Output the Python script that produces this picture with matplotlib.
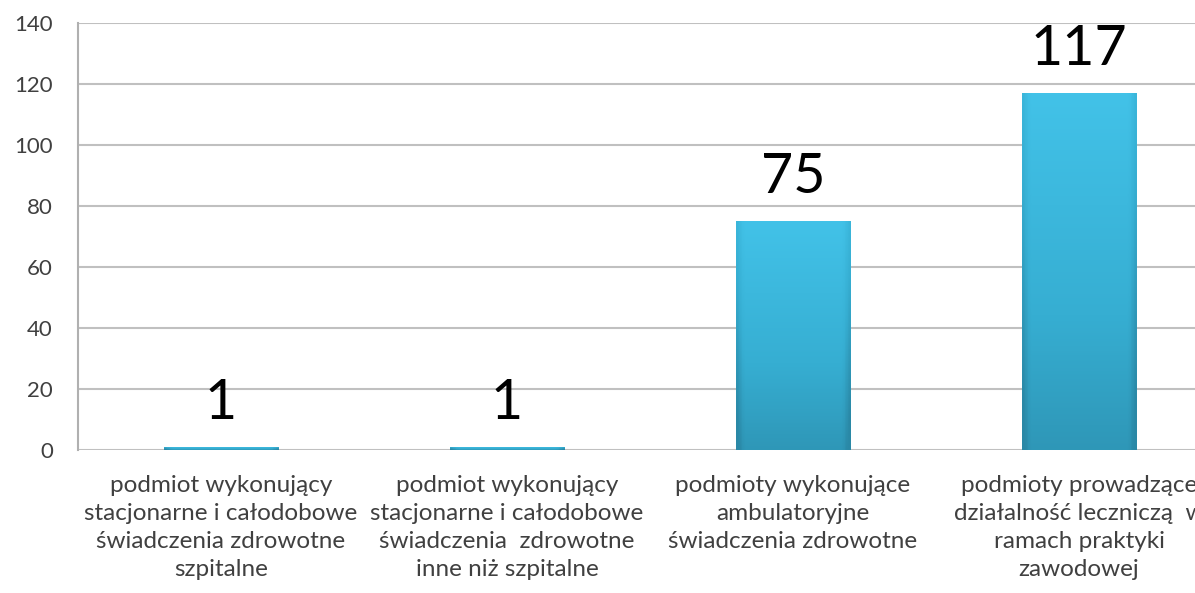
import matplotlib
matplotlib.use("Agg")
import matplotlib.pyplot as plt
import numpy as np
from matplotlib.colors import LinearSegmentedColormap

categories = [
    "podmiot wykonujący\nstacjonarne i całodobowe\nświadczenia zdrowotne\nszpitalne",
    "podmiot wykonujący\nstacjonarne i całodobowe\nświadczenia  zdrowotne\ninne niż szpitalne",
    "podmioty wykonujące\nambulatoryjne\nświadczenia zdrowotne",
    "podmioty prowadzące\ndziałalność leczniczą  w\nramach praktyki\nzawodowej",
]
values = [1, 1, 75, 117]
yticks = [0, 20, 40, 60, 80, 100, 120, 140]

plt.rcParams["font.family"] = ["Lato", "DejaVu Sans"]

W, H = 1195, 593
fig = plt.figure(figsize=(W / 100, H / 100), dpi=100)
# plot area runs past the right edge of the picture, as in the reference
left, right, bottom, top = 78, 1222, 450, 23
ax = fig.add_axes([left / W, 1 - bottom / H, (right - left) / W, (bottom - top) / H])

x = np.arange(len(values))
bars = ax.bar(x, values, width=0.4, color="#3bb4d8", zorder=3, linewidth=0)

# shaded gradient on each bar
grad_cmap = LinearSegmentedColormap.from_list("bar", ["#2a88a6", "#36aed2", "#42c2e8"])
gy = np.linspace(0, 1, 100)[:, None]
gx = np.linspace(0, 1, 40)[None, :]
edge = np.minimum(gx, 1 - gx)
shade = gy * 0.8 + 0.2 - np.where(edge < 0.06, (0.06 - edge) * 5, 0)
for b in bars:
    bx, by = b.get_x(), b.get_y()
    bw, bh = b.get_width(), b.get_height()
    im = ax.imshow(shade, cmap=grad_cmap, vmin=0, vmax=1, origin="lower",
                   extent=[bx, bx + bw, by, by + bh], aspect="auto", zorder=4)
    im.set_clip_path(b)
    ax.text(b.get_x() + bw / 2, by + bh + 9.3, str(int(bh)), ha="center", va="baseline",
            fontsize=40, color="black", zorder=5)

ax.set_xlim(-0.5, len(values) - 0.5)
ax.set_ylim(0, 140)
ax.set_yticks(yticks)
ax.set_xticks(x)
ax.set_xticklabels(categories, fontsize=17.5, color="#404040", linespacing=1.42)
ax.tick_params(axis="y", labelsize=16, colors="#404040", length=0, pad=18)
ax.tick_params(axis="x", length=0, pad=18)
ax.grid(axis="y", color="#c0c0c0", linewidth=1.5, zorder=0)
for s in ["top", "right", "bottom"]:
    ax.spines[s].set_visible(False)
ax.spines["left"].set_color("#b0b0b0")
ax.spines["left"].set_linewidth(1.5)

fig.savefig("out.png", dpi=100)
